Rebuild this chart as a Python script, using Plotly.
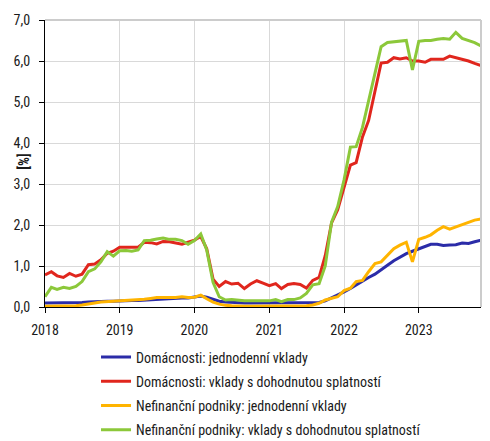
import pandas as pd
import plotly.graph_objects as go

months = pd.date_range("2018-01-01", "2023-11-01", freq="MS")

hh_overnight = [
    0.10, 0.10, 0.10, 0.10, 0.10, 0.11, 0.11, 0.12, 0.13, 0.13, 0.14, 0.14,
    0.15, 0.15, 0.16, 0.16, 0.17, 0.18, 0.19, 0.20, 0.20, 0.21, 0.22, 0.22,
    0.24, 0.27, 0.24, 0.18, 0.14, 0.12, 0.11, 0.10, 0.10, 0.10, 0.10, 0.10,
    0.10, 0.10, 0.10, 0.10, 0.10, 0.10, 0.10, 0.10, 0.11, 0.15, 0.22, 0.30,
    0.37, 0.45, 0.54, 0.63, 0.72, 0.80, 0.90, 1.02, 1.13, 1.22, 1.30, 1.36,
    1.42, 1.47, 1.53, 1.53, 1.50, 1.51, 1.52, 1.56, 1.55, 1.59, 1.63,
]
hh_term = [
    0.78, 0.86, 0.76, 0.72, 0.82, 0.75, 0.80, 1.03, 1.05, 1.15, 1.31, 1.36,
    1.46, 1.46, 1.46, 1.46, 1.58, 1.57, 1.54, 1.60, 1.59, 1.56, 1.53, 1.58,
    1.63, 1.72, 1.42, 0.68, 0.50, 0.62, 0.56, 0.58, 0.45, 0.56, 0.64, 0.58,
    0.52, 0.57, 0.45, 0.55, 0.57, 0.55, 0.46, 0.65, 0.72, 1.25, 2.05, 2.37,
    2.90, 3.46, 3.52, 4.15, 4.55, 5.25, 5.95, 5.97, 6.08, 6.05, 6.08, 6.00,
    6.00, 5.97, 6.04, 6.04, 6.04, 6.12, 6.08, 6.03, 6.00, 5.94, 5.89,
]
nfc_overnight = [
    0.02, 0.02, 0.02, 0.03, 0.03, 0.03, 0.05, 0.08, 0.10, 0.12, 0.13, 0.14,
    0.15, 0.15, 0.17, 0.18, 0.19, 0.21, 0.23, 0.23, 0.23, 0.23, 0.25, 0.23,
    0.24, 0.29, 0.20, 0.12, 0.07, 0.04, 0.03, 0.02, 0.02, 0.02, 0.02, 0.02,
    0.02, 0.02, 0.02, 0.02, 0.02, 0.02, 0.03, 0.05, 0.09, 0.17, 0.21, 0.25,
    0.40, 0.46, 0.62, 0.65, 0.86, 1.06, 1.10, 1.25, 1.42, 1.51, 1.58, 1.10,
    1.65, 1.70, 1.76, 1.87, 1.96, 1.90, 1.95, 2.01, 2.06, 2.12, 2.15,
]
nfc_term = [
    0.25, 0.48, 0.43, 0.48, 0.45, 0.50, 0.62, 0.86, 0.93, 1.10, 1.35, 1.24,
    1.37, 1.38, 1.36, 1.39, 1.62, 1.63, 1.66, 1.68, 1.65, 1.65, 1.62, 1.53,
    1.62, 1.78, 1.39, 0.60, 0.25, 0.17, 0.18, 0.16, 0.15, 0.15, 0.15, 0.15,
    0.15, 0.18, 0.13, 0.18, 0.18, 0.22, 0.33, 0.54, 0.57, 1.00, 2.07, 2.45,
    3.10, 3.90, 3.91, 4.38, 5.05, 5.70, 6.35, 6.45, 6.47, 6.48, 6.50, 5.78,
    6.48, 6.50, 6.50, 6.53, 6.55, 6.53, 6.70, 6.55, 6.50, 6.45, 6.37,
]

series_names = [
    "Domácnosti: jednodenní vklady",
    "Domácnosti: vklady s dohodnutou splatností",
    "Nefinanční podniky: jednodenní vklady",
    "Nefinanční podniky: vklady s dohodnutou splatností",
]
series_values = [hh_overnight, hh_term, nfc_overnight, nfc_term]
series_colors = ["#2b2ca8", "#e0261d", "#ffb400", "#8cc83a"]

year_ticks = ["2018-01-01", "2019-01-01", "2020-01-01", "2021-01-01", "2022-01-01", "2023-01-01"]
year_labels = ["2018", "2019", "2020", "2021", "2022", "2023"]
y_ticks = [0, 1, 2, 3, 4, 5, 6, 7]
y_title = "[%]"

FONT = "Roboto Condensed, Liberation Sans Narrow, DejaVu Sans Condensed, Roboto, sans-serif"
TXT = "#1a1a1a"

fig = go.Figure()
for i, (name, vals, col) in enumerate(zip(series_names, series_values, series_colors)):
    fig.add_trace(go.Scatter(
        x=months, y=vals, name=name, mode="lines",
        line=dict(color=col, width=3),
        legendgroup=f"g{i}",
    ))

# page body adds an 8px offset, so the figure is 8px smaller on each axis
fig.update_layout(
    width=482, height=433,
    margin=dict(l=37, r=9, t=12, b=134, autoexpand=False),
    paper_bgcolor="white", plot_bgcolor="white",
    separators=", ",
    font=dict(family=FONT, size=14, color=TXT),
    showlegend=True,
    legend=dict(
        x=0.117, xanchor="left", y=-0.12, yanchor="top",
        traceorder="grouped", tracegroupgap=3,
        font=dict(family=FONT, size=14, color=TXT),
        itemwidth=30,
    ),
    shapes=[
        dict(type="line", xref="paper", yref="paper", x0=0, x1=1, y0=1, y1=1,
             line=dict(color="#cccccc", width=2)),
        dict(type="line", xref="paper", yref="paper", x0=1, x1=1, y0=0, y1=1,
             line=dict(color="#cccccc", width=2)),
    ],
    annotations=[
        dict(text=f"<b>{y_title}</b>", xref="paper", yref="paper",
             x=-0.049, y=0.505, xanchor="center", yanchor="middle",
             textangle=-90, showarrow=False,
             font=dict(family=FONT, size=14, color=TXT)),
    ],
)
fig.update_xaxes(
    type="date",
    range=[months[0], months[-1]],
    tickvals=year_ticks, ticktext=year_labels,
    showgrid=True, gridcolor="#d9d9d9", gridwidth=1,
    showline=True, linecolor="black", linewidth=1,
    ticks="outside", ticklen=5, tickcolor="black",
    ticklabelstandoff=5,
    tickfont=dict(family=FONT, size=14, color=TXT),
    zeroline=False, automargin=False,
)
fig.update_yaxes(
    range=[0, 7],
    tickvals=y_ticks, tickformat=".1f",
    showgrid=True, gridcolor="#d9d9d9", gridwidth=1,
    showline=True, linecolor="black", linewidth=1,
    ticks="outside", ticklen=5, tickcolor="black",
    ticklabelstandoff=6,
    tickfont=dict(family=FONT, size=14, color=TXT),
    zeroline=False, automargin=False,
)

fig.write_html("out.html")
